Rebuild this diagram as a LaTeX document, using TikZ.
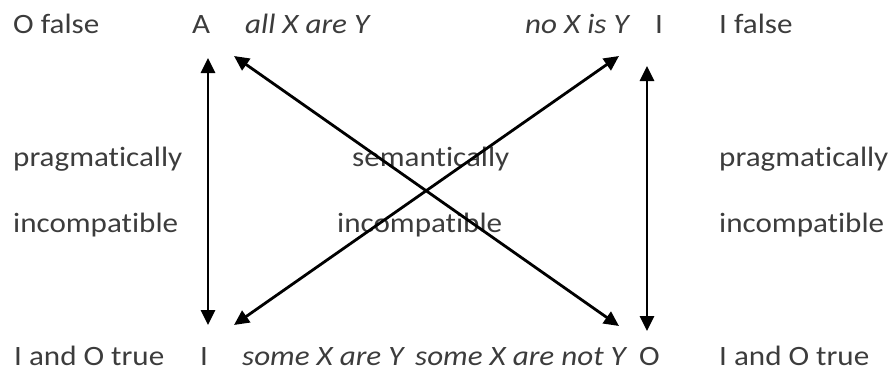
\documentclass[tikz,border=0pt]{standalone}
\usepackage{fontspec}
\setmainfont{Carlito}[FakeStretch=1.11, Ligatures={NoCommon}]
\usetikzlibrary{arrows.meta}
\definecolor{tGrey}{RGB}{60, 60, 60}

\begin{document}
\begin{tikzpicture}[
    x=1pt, y=-1pt,
    font=\fontsize{28}{32}\selectfont,
    >={Triangle[length=15pt, width=14pt]},
    lbl/.style={anchor=base west, inner sep=0pt, text=tGrey},
    ilbl/.style={lbl, font=\fontsize{28}{32}\selectfont\itshape},
    arrow/.style={<->, line width=2.8pt, color=black}
]
\useasboundingbox (0,0) rectangle (890,372);

% top row
\node[lbl] (ofalse) at (13,33) {O false};
\node[lbl] (lA) at (192,33) {A};
\node[ilbl] (allXY) at (245,33) {all X are Y};
\node[ilbl] (noXY) at (525,33) {no X is Y};
\node[lbl] (lE) at (655,33) {I};
\node[lbl] (ifalse) at (719,33) {I false};

% middle labels
\node[lbl] (pragL) at (13,166) {pragmatically};
\node[lbl] (incL) at (13,232) {incompatible};
\node[lbl] (sem) at (352,166) {semantically};
\node[lbl] (incM) at (337,232) {incompatible};
\node[lbl] (pragR) at (719,166) {pragmatically};
\node[lbl] (incR) at (719,232) {incompatible};

% bottom row
\node[lbl] (iotrueL) at (14,365) {I and O true};
\node[lbl] (lI) at (200,365) {I};
\node[ilbl] (someXY) at (242,365) {some X are Y};
\node[ilbl] (someNot) at (415,365) {some X are not Y};
\node[lbl] (lO) at (639,365) {O};
\node[lbl] (iotrueR) at (719,365) {I and O true};

% arrow ends
\coordinate (aTop) at (208,58);
\coordinate (aBot) at (208,325);
\coordinate (eTop) at (647,66);
\coordinate (eBot) at (647,331);
\coordinate (xTL) at (234,56);
\coordinate (xBR) at (619,326);
\coordinate (xTR) at (619,56);
\coordinate (xBL) at (234,325);

\draw[arrow] (aTop) -- (aBot);
\draw[arrow] (eTop) -- (eBot);
\draw[arrow] (xTL) -- (xBR);
\draw[arrow] (xTR) -- (xBL);

\end{tikzpicture}
\end{document}
